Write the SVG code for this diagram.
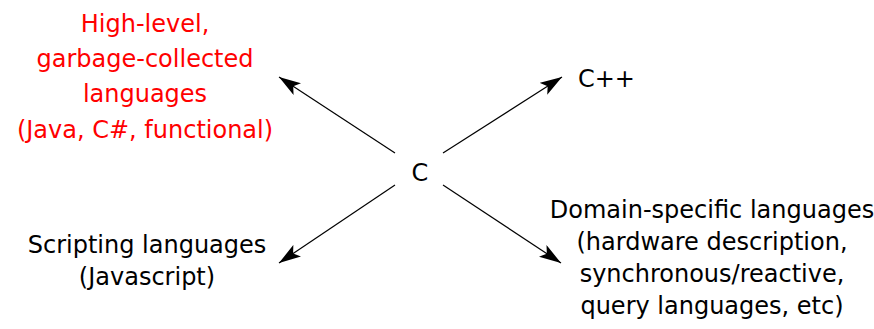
<svg xmlns="http://www.w3.org/2000/svg" width="874" height="329" viewBox="0 0 874 329">
<style>
text{font-family:"DejaVu Sans","Liberation Sans",sans-serif;font-size:24px;text-anchor:middle;fill:#000}
.red text{fill:#ff0000}
.conn line{stroke:#000;stroke-width:1.2;marker-end:url(#ah)}
</style>
<defs>
<marker id="ah" viewBox="0 0 22 14" refX="22" refY="7" markerWidth="22" markerHeight="14" markerUnits="userSpaceOnUse" orient="auto">
<path d="M0,0 L22,7 L0,14 L5,7 Z" fill="#000"/>
</marker>
</defs>
<rect width="874" height="329" fill="#fff"/>
<g id="hl" class="red">
<text x="145" y="32">High-level,</text>
<text x="145" y="67">garbage-collected</text>
<text x="145" y="102">languages</text>
<text x="145" y="138">(Java, C#, functional)</text>
</g>
<g id="c"><text x="420" y="181">C</text></g>
<g id="cpp"><text x="578" y="87" style="text-anchor:start">C++</text></g>
<g id="script">
<text x="147" y="253">Scripting languages</text>
<text x="147" y="285">(Javascript)</text>
</g>
<g id="dsl">
<text x="712" y="218">Domain-specific languages</text>
<text x="712" y="250">(hardware description,</text>
<text x="712" y="282">synchronous/reactive,</text>
<text x="712" y="314">query languages, etc)</text>
</g>
<g class="conn">
<line x1="395" y1="153" x2="279" y2="77"/>
<line x1="443" y1="153" x2="562" y2="77"/>
<line x1="395" y1="185" x2="279" y2="263"/>
<line x1="443" y1="185" x2="561" y2="263"/>
</g>
</svg>
